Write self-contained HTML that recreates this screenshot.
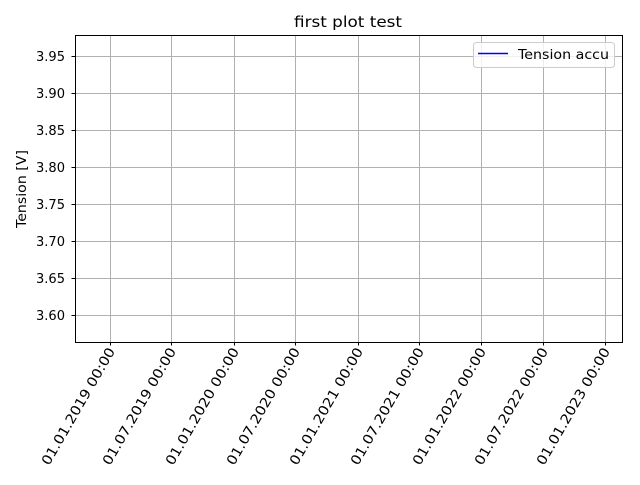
<!DOCTYPE html>
<html><head><meta charset="utf-8"><style>
body{margin:0;background:#fff}
svg text{font-family:"DejaVu Sans","Liberation Sans",sans-serif;fill:#000}
</style></head><body>
<svg width="640" height="480" xmlns="http://www.w3.org/2000/svg">
<text x="294" y="27" font-size="15" textLength="108" lengthAdjust="spacingAndGlyphs">first plot test</text>
<g id="grid"></g>
<g id="ticks"></g>
<text transform="translate(26,228) rotate(-90)" font-size="13.5" textLength="78" lengthAdjust="spacingAndGlyphs">Tension [V]</text>
<rect x="75.5" y="35.5" width="547" height="307" fill="none" stroke="#000" stroke-width="1"/>
<g>
<rect x="473.5" y="42.5" width="141" height="25" rx="3" fill="#fff" fill-opacity="0.8" stroke="#ccc"/>
<line x1="478" y1="53.5" x2="508" y2="53.5" stroke="#0000ff" stroke-width="1.5"/>
<text x="518" y="59" font-size="13.5" textLength="91" lengthAdjust="spacingAndGlyphs">Tension accu</text>
</g>
</svg>
<script>
const yTicks=[3.60,3.65,3.70,3.75,3.80,3.85,3.90,3.95];
const xTickDates=["2019-01-01","2019-07-01","2020-01-01","2020-07-01","2021-01-01","2021-07-01","2022-01-01","2022-07-01","2023-01-01"];
const xTickLabels=["01.01.2019 00:00","01.07.2019 00:00","01.01.2020 00:00","01.07.2020 00:00","01.01.2021 00:00","01.07.2021 00:00","01.01.2022 00:00","01.07.2022 00:00","01.01.2023 00:00"];
const seriesValues=[];
const L=75,R=622,T=35,B=342;
const y0=3.5635,y1=3.9785;
const d0=Date.parse("2019-01-01")-103*864e5, d1=Date.parse("2023-01-01")+50*864e5;
const ys=v=>B-(v-y0)/(y1-y0)*(B-T);
const xs=d=>L+(Date.parse(d)-d0)/(d1-d0)*(R-L);
const NS="http://www.w3.org/2000/svg";
const grid=document.getElementById('grid'),ticks=document.getElementById('ticks');
function mk(tag,attrs,parent){const e=document.createElementNS(NS,tag);for(const k in attrs)e.setAttribute(k,attrs[k]);parent.appendChild(e);return e;}
yTicks.forEach(v=>{
 const y=Math.round(ys(v))+0.5;
 const g=mk('line',{x1:L,x2:R,y1:y,y2:y,stroke:'#b0b0b0','stroke-width':1},grid);
 
 
 const t=mk('line',{x1:L-3.5,x2:L,y1:y,y2:y,stroke:'#000'},ticks);
 
 
 const tx=mk('text',{x:L-39,y:y+4.5,'font-size':13.5,textLength:29,lengthAdjust:'spacingAndGlyphs'},ticks);
 tx.textContent=v.toFixed(2);
 
 
});
xTickDates.forEach((d,i)=>{
 const x=Math.round(xs(d))+0.5;
 const g=mk('line',{x1:x,x2:x,y1:T,y2:B,stroke:'#b0b0b0','stroke-width':1},grid);
 
 
 const t=mk('line',{x1:x,x2:x,y1:B,y2:B+3.5,stroke:'#000'},ticks);
 
 
 const g2=mk('g',{transform:`translate(${x+5},${B+9}) rotate(-60)`},ticks);
 const tx=mk('text',{x:-133,y:0,'font-size':13.5,textLength:133,lengthAdjust:'spacingAndGlyphs'},g2);
 tx.textContent=xTickLabels[i];
 
 
});
</script>
</body></html>
